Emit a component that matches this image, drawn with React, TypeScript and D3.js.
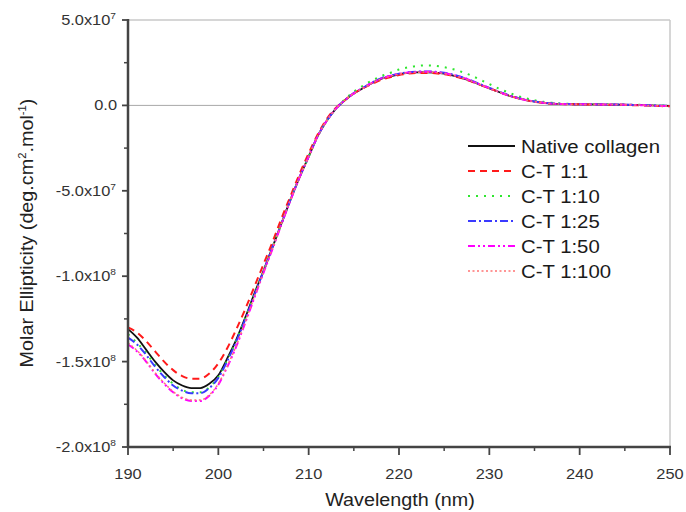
import React from "react";
import * as d3 from "d3";

// wavelength grid (nm)
const wavelengths = [
  190, 191, 192, 193, 194, 195, 196, 197, 198, 199, 200, 201, 202, 203, 204, 205, 206, 207, 208, 209,
  210, 211, 212, 213, 214, 215, 216, 217, 218, 219, 220, 221, 222, 223, 224, 225, 226, 227, 228, 229,
  230, 231, 232, 233, 234, 235, 236, 237, 238, 239, 240, 241, 242, 243, 244, 245, 246, 247, 248, 249, 250,
];

// molar ellipticity, in units of 1e6
const native = [
  -131, -136, -143, -150, -156, -161, -164, -165.5, -165.5, -163, -158, -148, -137, -124, -110, -97, -83, -69, -55, -42,
  -30, -18, -9, -2, 3, 7, 10, 13, 15.5, 17, 18.2, 19, 19.3, 19.4, 19.2, 18.6, 17.5, 16, 14.2, 12,
  10, 8, 6, 4.5, 3.2, 2.2, 1.5, 1.0, 0.8, 0.7, 0.6, 0.6, 0.6, 0.5, 0.5, 0.4, 0.3, 0.2, 0, -0.2, -0.3,
];
const ct1 = [
  -130, -133, -138, -144, -150, -155, -158.5, -160, -160, -157, -151, -142, -131, -119, -106, -93, -80, -66, -53, -40,
  -28, -17, -8, -1.5, 3, 7, 10, 12.5, 15, 16.5, 17.8, 18.6, 19, 19, 18.8, 18.2, 17.2, 15.8, 14, 12,
  10, 8, 6, 4.4, 3.1, 2.1, 1.4, 1.0, 0.8, 0.7, 0.6, 0.6, 0.5, 0.4, 0.4, 0.3, 0.1, 0, -0.2, -0.4, -0.5,
];
const ct10 = [
  -134, -139, -145, -152, -158, -163, -166.5, -168, -168, -165, -159, -149, -137.5, -124.5, -110.5, -97, -83, -69, -55, -42,
  -30, -18, -9, -2, 3.5, 8, 11.5, 14.5, 17, 19, 21, 22.3, 23.1, 23.4, 23.2, 22.4, 21.2, 19.5, 17.5, 15,
  12.5, 10, 7.8, 5.8, 4.2, 3, 2.1, 1.5, 1.1, 0.9, 0.8, 0.8, 0.7, 0.7, 0.6, 0.5, 0.4, 0.3, 0.1, -0.1, -0.2,
];
const ct25 = [
  -136, -140, -146, -153, -159, -164, -167, -168.5, -168.5, -165.5, -159.5, -149.5, -138, -125, -111, -97, -83, -69, -55, -42,
  -30, -18, -9, -2, 3, 7.2, 10.3, 13.3, 15.8, 17.4, 18.6, 19.4, 19.8, 19.9, 19.7, 19.1, 18, 16.5, 14.6, 12.4,
  10.3, 8.2, 6.2, 4.6, 3.3, 2.3, 1.6, 1.1, 0.9, 0.8, 0.7, 0.7, 0.6, 0.6, 0.5, 0.4, 0.3, 0.2, 0, -0.2, -0.3,
];
const ct50 = [
  -140, -144, -150, -157, -163, -168, -171.5, -173, -173, -170, -163.5, -153, -141, -127, -112.5, -98, -84, -69.5, -55.5, -42,
  -30, -18, -9, -2, 3, 7, 10.2, 13.2, 15.7, 17.3, 18.5, 19.3, 19.6, 19.7, 19.5, 18.9, 17.8, 16.3, 14.4, 12.2,
  10.1, 8, 6, 4.5, 3.2, 2.2, 1.5, 1.0, 0.8, 0.7, 0.7, 0.7, 0.6, 0.6, 0.5, 0.4, 0.3, 0.1, -0.1, -0.3, -0.4,
];
const ct100 = [
  -139, -143.5, -149.5, -156.5, -162.5, -167.5, -171, -172.5, -172.5, -169.5, -163, -152.5, -140.5, -126.5, -112, -97.5, -83.5, -69, -55, -42,
  -30, -18, -9, -2, 3, 7, 10, 13, 15.5, 17.1, 18.3, 19.1, 19.4, 19.5, 19.3, 18.7, 17.6, 16.1, 14.3, 12.1,
  10, 8, 6, 4.5, 3.2, 2.2, 1.5, 1, 0.8, 0.7, 0.6, 0.6, 0.6, 0.5, 0.5, 0.4, 0.3, 0.1, -0.1, -0.3, -0.4,
];

const seriesNames = ["Native collagen", "C-T 1:1", "C-T 1:10", "C-T 1:25", "C-T 1:50", "C-T 1:100"];
const seriesValues = [native, ct1, ct10, ct25, ct50, ct100];

const xTicks = [190, 200, 210, 220, 230, 240, 250];
const xMinor = [195, 205, 215, 225, 235, 245];
// [value (1e6), mantissa, exponent]
const yTicks: [number, string, string][] = [
  [50, "5.0x10", "7"],
  [0, "0.0", ""],
  [-50, "-5.0x10", "7"],
  [-100, "-1.0x10", "8"],
  [-150, "-1.5x10", "8"],
  [-200, "-2.0x10", "8"],
];
const yMinor = [25, -25, -75, -125, -175];

const styles = [
  { color: "#111111", dash: "", width: 1.8 },
  { color: "#ff1a1a", dash: "7,5", width: 2 },
  { color: "#2ee62e", dash: "2,6", width: 2 },
  { color: "#3a3aff", dash: "8,3,2,3", width: 2 },
  { color: "#ff00ff", dash: "7,3,2,3,2,3", width: 2 },
  { color: "#ff7373", dash: "2,2.5", width: 1.5 },
];

const W = 686;
const H = 512;
const left = 128;
const right = 670;
const top = 20;
const bottom = 447;
const SX = 1.13; // horizontal text stretch of the original
const font = "Liberation Sans, Arial, Helvetica, sans-serif";

function Txt({ x, y, size, anchor = "start", rotate = 0, fill = "#333", children }: any) {
  return (
    <g transform={`translate(${x},${y}) rotate(${rotate}) scale(${SX},1)`}>
      <text x={0} y={0} fontSize={size} textAnchor={anchor} fill={fill} fontFamily={font}>
        {children}
      </text>
    </g>
  );
}

export default function App() {
  const x = d3.scaleLinear().domain([190, 250]).range([left, right]);
  const y = d3.scaleLinear().domain([-200, 50]).range([bottom, top]);

  const line = d3
    .line<number>()
    .x((_, i) => x(wavelengths[i]))
    .y((d) => y(d))
    .curve(d3.curveMonotoneX);

  const axisColor = "#444";
  const legendY = d3.scaleLinear().domain([0, 1]).range([146, 171]);

  return (
    <svg width={W} height={H} style={{ position: "absolute", left: 0, top: 0, background: "#fff" }}>
      {/* frame */}
      <line x1={left} x2={right} y1={top} y2={top} stroke="#c8c8c8" strokeWidth={1.5} />
      <line x1={right} x2={right} y1={top} y2={bottom} stroke="#c8c8c8" strokeWidth={1.5} />
      {/* zero line */}
      <line x1={left} x2={right} y1={y(0)} y2={y(0)} stroke="#a8a8a8" strokeWidth={1} />

      {/* curves */}
      {seriesValues.map((vals, i) => (
        <path
          key={seriesNames[i]}
          d={line(vals) || ""}
          fill="none"
          stroke={styles[i].color}
          strokeWidth={styles[i].width}
          strokeDasharray={styles[i].dash || undefined}
        />
      ))}

      {/* axes */}
      <line x1={left} x2={left} y1={top - 1} y2={bottom + 1} stroke={axisColor} strokeWidth={2.5} />
      <line x1={left - 1} x2={right + 1} y1={bottom} y2={bottom} stroke={axisColor} strokeWidth={2.5} />

      {xTicks.map((t) => (
        <g key={t}>
          <line x1={x(t)} x2={x(t)} y1={bottom} y2={bottom + 8} stroke={axisColor} strokeWidth={1.8} />
          <Txt x={x(t)} y={479} size={14.5} anchor="middle">
            {t}
          </Txt>
        </g>
      ))}
      {xMinor.map((t) => (
        <line key={t} x1={x(t)} x2={x(t)} y1={bottom} y2={bottom + 4} stroke={axisColor} strokeWidth={1.5} />
      ))}

      {yTicks.map(([v, m, e]) => (
        <g key={v}>
          <line x1={left - 6} x2={left} y1={y(v)} y2={y(v)} stroke={axisColor} strokeWidth={1.8} />
          <Txt x={e ? 116 : 117} y={y(v) + 5} size={14.5} anchor="end">
            {m}
            {e && (
              <tspan fontSize={9} dy={-6}>
                {e}
              </tspan>
            )}
          </Txt>
        </g>
      ))}
      {yMinor.map((v) => (
        <line key={v} x1={left - 4} x2={left} y1={y(v)} y2={y(v)} stroke={axisColor} strokeWidth={1.5} />
      ))}

      {/* axis titles */}
      <Txt x={400} y={506} size={17.5} anchor="middle" fill="#222">
        Wavelength (nm)
      </Txt>
      <Txt x={33} y={233} size={17.5} anchor="middle" rotate={-90} fill="#222">
        Molar Ellipticity (deg.cm
        <tspan fontSize={10} dy={-7}>
          2
        </tspan>
        <tspan dy={7}>.mol</tspan>
        <tspan fontSize={10} dy={-7}>
          -1
        </tspan>
        <tspan dy={7}>)</tspan>
      </Txt>

      {/* legend */}
      {seriesNames.map((name, i) => {
        const ly = legendY(i);
        return (
          <g key={name}>
            <line
              x1={468}
              x2={515}
              y1={ly}
              y2={ly}
              stroke={styles[i].color}
              strokeWidth={styles[i].width}
              strokeDasharray={styles[i].dash || undefined}
            />
            <Txt x={521} y={ly + 6.5} size={18} fill="#1a1a1a">
              {name}
            </Txt>
          </g>
        );
      })}
    </svg>
  );
}
